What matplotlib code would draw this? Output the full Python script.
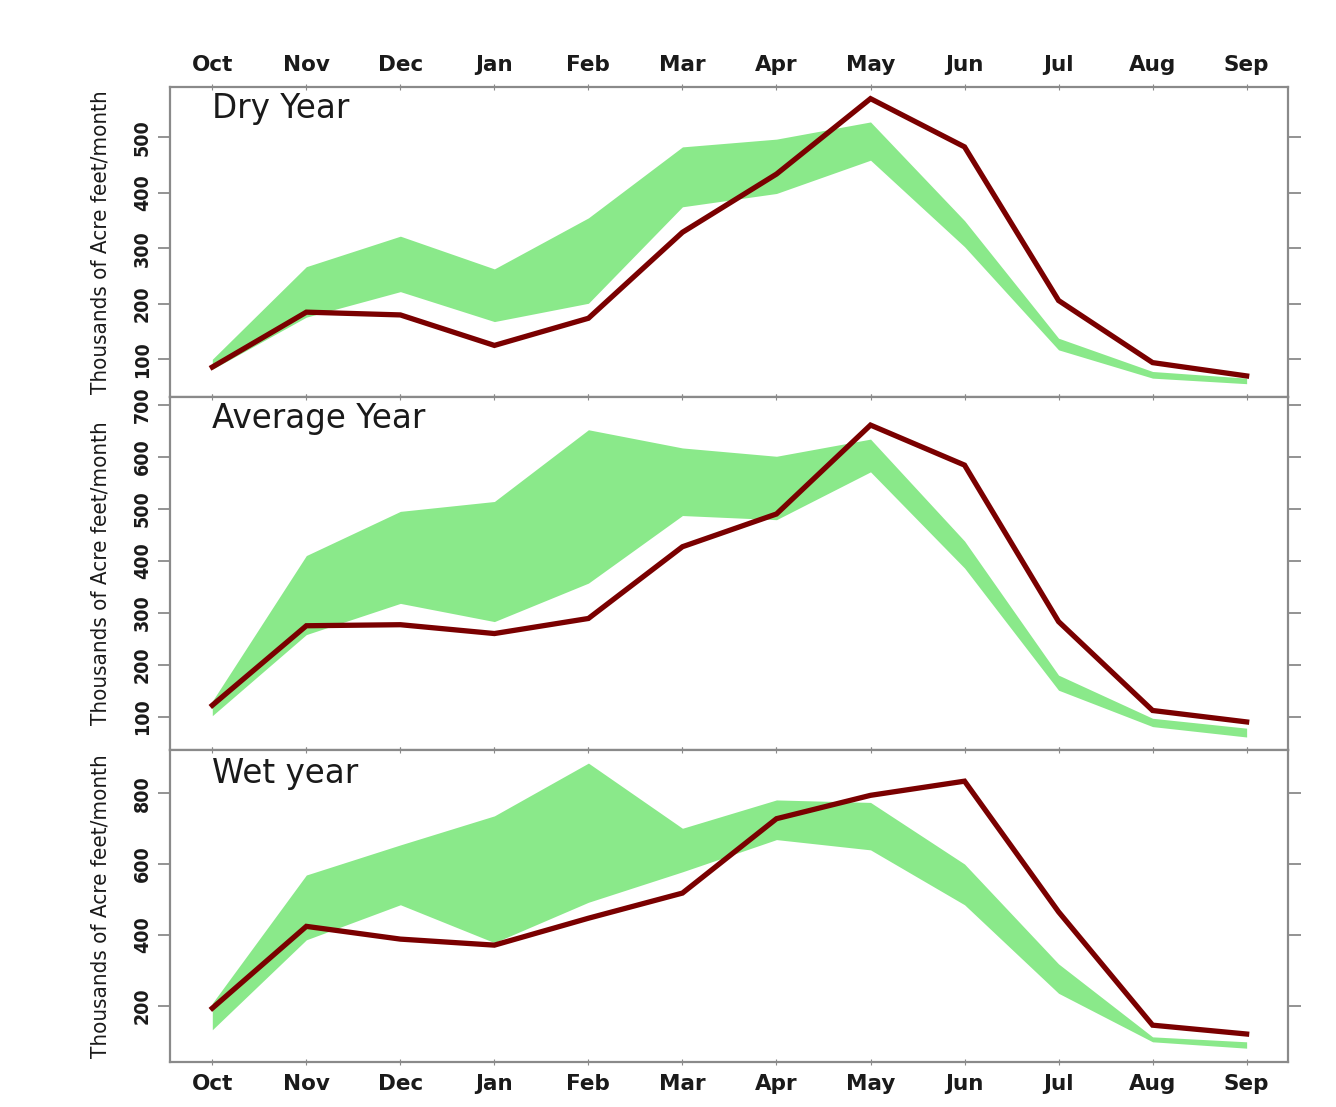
import os
import matplotlib
matplotlib.use('Agg')
import matplotlib.pyplot as plt
from matplotlib import font_manager


months = ['Oct', 'Nov', 'Dec', 'Jan', 'Feb', 'Mar', 'Apr', 'May', 'Jun', 'Jul', 'Aug', 'Sep']

# dry year: observed flow and simulated range (thousand acre-feet / month)
dry_flow = [86, 185, 180, 125, 174, 329, 434, 570, 483, 206, 94, 70]
dry_low = [82, 176, 222, 168, 201, 375, 399, 459, 303, 117, 66, 56]
dry_high = [100, 267, 322, 263, 355, 483, 497, 528, 350, 138, 78, 66]

# average year
avg_flow = [122, 275, 277, 260, 289, 427, 490, 661, 584, 283, 112, 90]
avg_low = [102, 258, 318, 283, 357, 487, 479, 571, 386, 151, 81, 61]
avg_high = [130, 410, 495, 514, 652, 617, 601, 634, 438, 180, 97, 78]

# wet year
wet_flow = [193, 424, 388, 371, 447, 518, 728, 794, 834, 465, 145, 120]
wet_low = [132, 386, 485, 378, 492, 578, 669, 640, 485, 235, 98, 80]
wet_high = [207, 569, 654, 736, 885, 701, 781, 774, 600, 318, 112, 98]

titles = ['Dry Year', 'Average Year', 'Wet year']
yticks = [[100, 200, 300, 400, 500],
          [100, 200, 300, 400, 500, 600, 700],
          [200, 400, 600, 800]]
ylims = [(32, 591), (36, 715), (41, 922)]

ylabel = 'Thousands of Acre feet/month'


def find_narrow(bold=False):
    # look for a condensed sans face on this machine, by file name
    prefs = ['LiberationSansNarrow', 'ArialNarrow', 'Arial Narrow', 'NotoSans-Condensed',
             'DejaVuSansCondensed', 'RobotoCondensed', 'Roboto-Condensed',
             'OpenSans-Condensed', 'OpenSans_Condensed']
    files = [f.fname for f in font_manager.fontManager.ttflist]
    for p in prefs:
        for fn in files:
            base = os.path.basename(fn).lower()
            if p.lower() not in base:
                continue
            if 'italic' in base or 'oblique' in base:
                continue
            tail = base.replace(p.lower(), '')
            if bold:
                if 'bold' in tail and not any(w in tail for w in ['semi', 'extra', 'ultra']):
                    return fn
            elif not any(w in tail for w in
                         ['bold', 'light', 'thin', 'black', 'medium', 'semi', 'extra']):
                return fn
    return None


reg_file = find_narrow(False)
bold_file = find_narrow(True)
if reg_file:
    label_fp = font_manager.FontProperties(fname=reg_file, size=16)
else:
    label_fp = font_manager.FontProperties(family='DejaVu Sans', size=14)
if bold_file:
    tick_fp = font_manager.FontProperties(fname=bold_file, size=14)
else:
    tick_fp = font_manager.FontProperties(family='DejaVu Sans', size=12.5, weight='bold')

W, H = 1336, 1107
fig = plt.figure(figsize=(W / 100, H / 100), dpi=100)

# panel extents in pixels (top, bottom)
rows = [(87, 397), (397, 750), (750, 1062)]
left, right = 170, 1288

data = [(dry_flow, dry_low, dry_high),
        (avg_flow, avg_low, avg_high),
        (wet_flow, wet_low, wet_high)]
title_base = [0.900, 0.912, 0.894]

x = list(range(len(months)))
spine_col = '#8a8a8a'

for i, (top, bot) in enumerate(rows):
    ax = fig.add_axes([left / W, 1 - bot / H, (right - left) / W, (bot - top) / H])
    flow, low, high = data[i]

    ax.fill_between(x, low, high, color='#8ae98a', linewidth=0, zorder=1)
    ax.plot(x, flow, color='#7a0000', linewidth=3.8, solid_joinstyle='miter', zorder=3)

    ax.set_xlim(-0.45, 11.44)
    ax.set_ylim(*ylims[i])
    ax.set_xticks(x)
    ax.set_yticks(yticks[i])

    for s in ax.spines.values():
        s.set_color(spine_col)
        s.set_linewidth(1.6)

    ax.tick_params(axis='x', direction='inout', length=5, color=spine_col,
                   top=True, bottom=True, labeltop=(i == 0), labelbottom=(i == 2),
                   pad=6)
    ax.tick_params(axis='y', direction='out', length=9, color=spine_col, width=1.3,
                   left=True, right=True, pad=4)

    if i == 0 or i == 2:
        ax.set_xticklabels(months, fontsize=15.5, fontweight='bold', family='DejaVu Sans',
                           color='#1a1a1a')
    else:
        ax.set_xticklabels([])

    ax.set_yticklabels([str(v) for v in yticks[i]], rotation=90, va='center',
                       fontproperties=tick_fp, color='#1a1a1a')

    ax.set_ylabel(ylabel, fontproperties=label_fp, color='#1a1a1a', labelpad=16)

    ax.text((212 - left) / (right - left), title_base[i], titles[i],
            transform=ax.transAxes, fontsize=23.5, family='DejaVu Sans',
            color='#1a1a1a', va='baseline', ha='left')

fig.savefig('out.png', dpi=100, facecolor='white')
